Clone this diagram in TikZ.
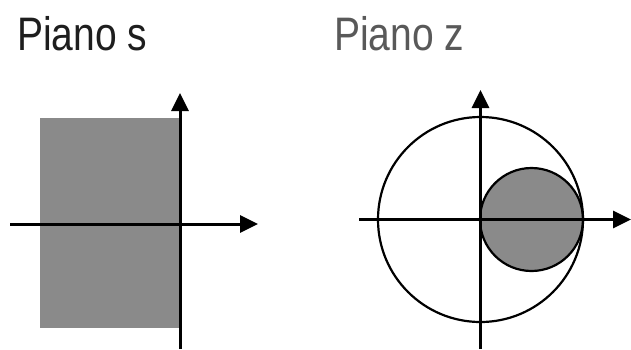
\documentclass[tikz,border=0pt]{standalone}
\usepackage{fontspec}
\setmainfont{Liberation Sans}
\usetikzlibrary{arrows.meta}
\definecolor{regiongray}{HTML}{8A8A8A}
\definecolor{titlegray}{HTML}{595959}
\definecolor{titleblack}{HTML}{1E1E1E}
\tikzset{
  axis/.style={line width=3pt,-{Triangle[length=18pt,width=17pt]}},
  ring/.style={line width=2.2pt},
  ttl/.style={anchor=base west,inner sep=0pt,xscale=0.83,font=\fontsize{47}{47}\selectfont}
}
\begin{document}
\begin{tikzpicture}[x=1pt,y=-1pt]
\useasboundingbox (0,0) rectangle (631,349);
% left plane
\node[ttl,text=titleblack] (ts) at (17,50) {Piano s};
\fill[regiongray] (40,118) rectangle (180,328);
\coordinate (lxs) at (10,224);
\coordinate (lxe) at (258,224);
\coordinate (lys) at (180,349);
\coordinate (lye) at (180,93);
\draw[axis] (lxs) -- (lxe);
\draw[axis] (lys) -- (lye);
% right plane
\node[ttl,text=titlegray] (tz) at (334,50) {Piano z};
\coordinate (o) at (480.5,219.5);
\coordinate (c) at (531.5,219.5);
\draw[ring,fill=regiongray] (c) circle (51.5);
\draw[ring] (o) circle (102.5);
\coordinate (rxs) at (359,219.5);
\coordinate (rxe) at (631,219.5);
\coordinate (rys) at (480.5,349);
\coordinate (rye) at (480.5,90);
\draw[axis] (rxs) -- (rxe);
\draw[axis] (rys) -- (rye);
\end{tikzpicture}
\end{document}
